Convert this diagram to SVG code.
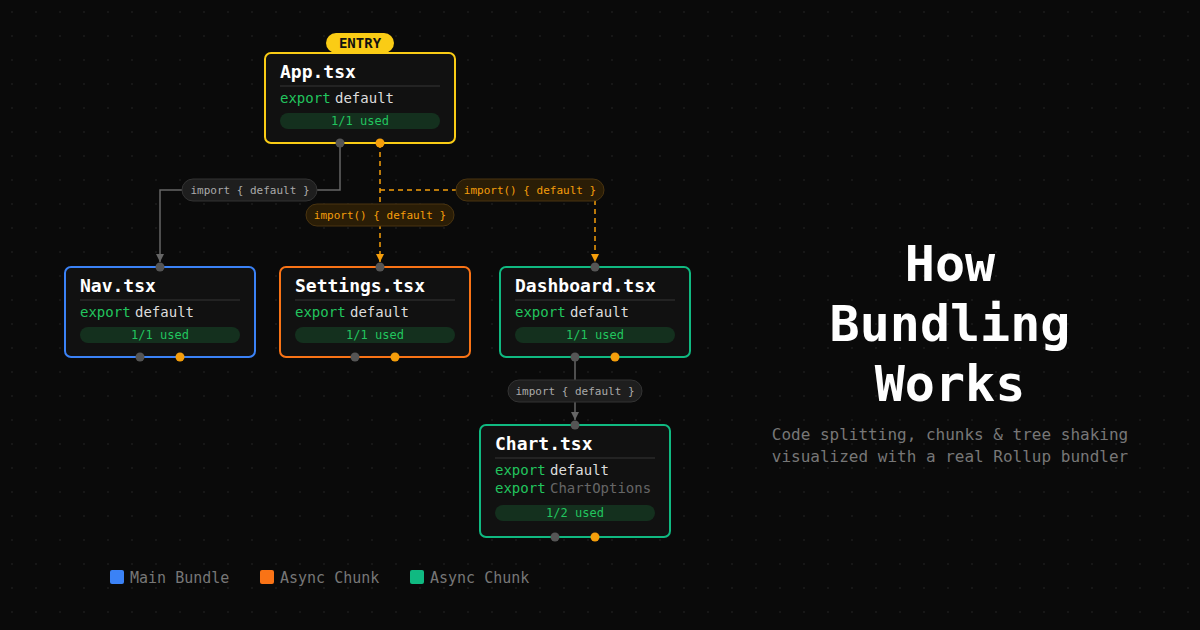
<svg xmlns="http://www.w3.org/2000/svg" width="1200" height="630" viewBox="0 0 1200 630">
<defs>
<pattern id="dots" width="24" height="24" patternUnits="userSpaceOnUse"><circle cx="12" cy="12" r="1" fill="#1a1a1a"/></pattern>
<marker id="ag" markerWidth="8" markerHeight="8" refX="8" refY="4" orient="auto" markerUnits="userSpaceOnUse" viewBox="0 0 8 8"><path d="M0,0 L8,4 L0,8 Z" fill="#666"/></marker>
<marker id="ao" markerWidth="8" markerHeight="8" refX="8" refY="4" orient="auto" markerUnits="userSpaceOnUse" viewBox="0 0 8 8"><path d="M0,0 L8,4 L0,8 Z" fill="#f59e0b"/></marker>
</defs>
<style>
text{font-family:"DejaVu Sans Mono","Liberation Mono",monospace}
.box{fill:#111;stroke-width:2}
.fn{fill:#fff;font-size:18px;font-weight:bold}
.kw{fill:#22c55e;font-size:14px}
.nm{fill:#ddd;font-size:14px}
.dim{fill:#666;font-size:14px}
.sep{stroke:#2a2a2a;stroke-width:1.5}
.bar{fill:#14301e}
.used{fill:#22c55e;font-size:12px;text-anchor:middle}
.hg{fill:#555}.ho{fill:#f59e0b}
.lg{fill:#1e1e1e;stroke:#333}
.lo{fill:#2a1d06;stroke:#4a3410}
.ltg{fill:#aaa;font-size:11px;text-anchor:middle}
.lto{fill:#f59e0b;font-size:11px;text-anchor:middle}
.cg{fill:none;stroke:#666;stroke-width:1.5}
.co{fill:none;stroke:#f59e0b;stroke-width:1.5;stroke-dasharray:5 4}
.leg{fill:#777;font-size:15px}
</style>
<rect width="1200" height="630" fill="#0a0a0a"/>
<rect width="1200" height="630" fill="url(#dots)"/>
<g id="connectors">
<path class="cg" d="M340,143 V190 H160 V262" marker-end="url(#ag)"/>
<path class="co" d="M380,143 V262" marker-end="url(#ao)"/>
<path class="co" d="M380,190 H595 V262" marker-end="url(#ao)"/>
<path class="cg" d="M575,357 V420" marker-end="url(#ag)"/>
<rect class="lg" x="182" y="179" width="135" height="22" rx="11"/><text class="ltg" x="250" y="194">import { default }</text>
<rect class="lo" x="306" y="204" width="148" height="22" rx="11"/><text class="lto" x="380" y="219">import() { default }</text>
<rect class="lo" x="456" y="179" width="148" height="22" rx="11"/><text class="lto" x="530" y="194">import() { default }</text>
<rect class="lg" x="508" y="380" width="134" height="22" rx="11"/><text class="ltg" x="575" y="395">import { default }</text>
</g>
<g id="app">
<rect x="326" y="33" width="68" height="20" rx="10" fill="#facc15"/>
<text x="360" y="48" text-anchor="middle" font-size="14" font-weight="bold" fill="#111">ENTRY</text>
<rect class="box" x="265" y="53" width="190" height="90" rx="6" stroke="#facc15"/>
<text class="fn" x="280" y="78">App.tsx</text><line class="sep" x1="280" y1="86" x2="440" y2="86"/>
<text class="kw" x="280" y="103">export</text><text class="nm" x="335" y="103">default</text>
<rect class="bar" x="280" y="113" width="160" height="16" rx="8"/><text class="used" x="360" y="125">1/1 used</text>
<circle class="hg" cx="340" cy="143" r="4.5"/><circle class="ho" cx="380" cy="143" r="4.5"/>
</g>
<g id="nav">
<rect class="box" x="65" y="267" width="190" height="90" rx="6" stroke="#3b82f6"/>
<text class="fn" x="80" y="292">Nav.tsx</text><line class="sep" x1="80" y1="300" x2="240" y2="300"/>
<text class="kw" x="80" y="317">export</text><text class="nm" x="135" y="317">default</text>
<rect class="bar" x="80" y="327" width="160" height="16" rx="8"/><text class="used" x="160" y="339">1/1 used</text>
<circle class="hg" cx="160" cy="267" r="4.5"/><circle class="hg" cx="140" cy="357" r="4.5"/><circle class="ho" cx="180" cy="357" r="4.5"/>
</g>
<g id="settings">
<rect class="box" x="280" y="267" width="190" height="90" rx="6" stroke="#f97316"/>
<text class="fn" x="295" y="292">Settings.tsx</text><line class="sep" x1="295" y1="300" x2="455" y2="300"/>
<text class="kw" x="295" y="317">export</text><text class="nm" x="350" y="317">default</text>
<rect class="bar" x="295" y="327" width="160" height="16" rx="8"/><text class="used" x="375" y="339">1/1 used</text>
<circle class="hg" cx="380" cy="267" r="4.5"/><circle class="hg" cx="355" cy="357" r="4.5"/><circle class="ho" cx="395" cy="357" r="4.5"/>
</g>
<g id="dashboard">
<rect class="box" x="500" y="267" width="190" height="90" rx="6" stroke="#10b981"/>
<text class="fn" x="515" y="292">Dashboard.tsx</text><line class="sep" x1="515" y1="300" x2="675" y2="300"/>
<text class="kw" x="515" y="317">export</text><text class="nm" x="570" y="317">default</text>
<rect class="bar" x="515" y="327" width="160" height="16" rx="8"/><text class="used" x="595" y="339">1/1 used</text>
<circle class="hg" cx="595" cy="267" r="4.5"/><circle class="hg" cx="575" cy="357" r="4.5"/><circle class="ho" cx="615" cy="357" r="4.5"/>
</g>
<g id="chart">
<rect class="box" x="480" y="425" width="190" height="112" rx="6" stroke="#10b981"/>
<text class="fn" x="495" y="450">Chart.tsx</text><line class="sep" x1="495" y1="458" x2="655" y2="458"/>
<text class="kw" x="495" y="475">export</text><text class="nm" x="550" y="475">default</text>
<text class="kw" x="495" y="493">export</text><text class="dim" x="550" y="493">ChartOptions</text>
<rect class="bar" x="495" y="505" width="160" height="16" rx="8"/><text class="used" x="575" y="517">1/2 used</text>
<circle class="hg" cx="575" cy="425" r="4.5"/><circle class="hg" cx="555" cy="537" r="4.5"/><circle class="ho" cx="595" cy="537" r="4.5"/>
</g>
<g id="legend">
<rect x="110" y="570" width="14" height="14" rx="2" fill="#3b82f6"/><text class="leg" x="130" y="583">Main Bundle</text>
<rect x="260" y="570" width="14" height="14" rx="2" fill="#f97316"/><text class="leg" x="280" y="583">Async Chunk</text>
<rect x="410" y="570" width="14" height="14" rx="2" fill="#10b981"/><text class="leg" x="430" y="583">Async Chunk</text>
</g>
<g id="title">
<text x="950" y="281" text-anchor="middle" font-size="50" font-weight="bold" fill="#fff">How</text>
<text x="950" y="341" text-anchor="middle" font-size="50" font-weight="bold" fill="#fff">Bundling</text>
<text x="950" y="401" text-anchor="middle" font-size="50" font-weight="bold" fill="#fff">Works</text>
<text x="950" y="440" text-anchor="middle" font-size="16" fill="#777">Code splitting, chunks &amp; tree shaking</text>
<text x="950" y="462" text-anchor="middle" font-size="16" fill="#777">visualized with a real Rollup bundler</text>
</g>
</svg>
